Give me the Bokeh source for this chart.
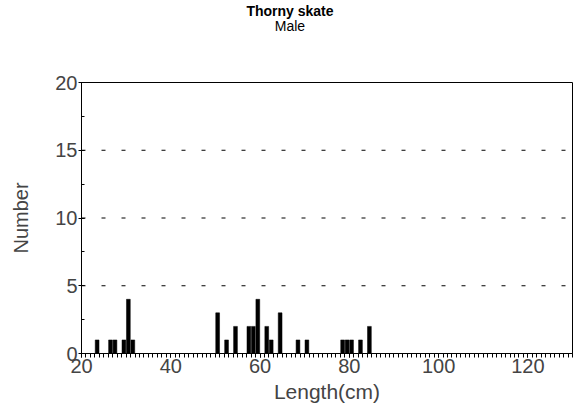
from bokeh.plotting import figure
from bokeh.models import ColumnDataSource, SingleIntervalTicker, Range1d, Span, Div
from bokeh.layouts import column
from bokeh.transform import dodge
from bokeh.embed import file_html
from bokeh.resources import INLINE

# Length-frequency of male thorny skate (1 cm bins, lower edge)
lengths = [23, 26, 27, 29, 30, 31, 50, 52, 54, 57, 58, 59, 61, 62, 64, 68, 70, 78, 79, 80, 82, 84]
counts = [1, 1, 1, 1, 4, 1, 3, 1, 2, 2, 2, 4, 2, 1, 3, 1, 1, 1, 1, 1, 1, 2]
grid_levels = [5, 10, 15]

FONT = "Liberation Sans"

src = ColumnDataSource(data=dict(length=lengths, count=counts))

p = figure(width=574, height=374, output_backend="svg", toolbar_location=None,
           x_range=Range1d(20, 130), y_range=Range1d(0, 20),
           min_border_left=81, min_border_right=2, min_border_top=42, min_border_bottom=61)
p.background_fill_color = "white"
p.border_fill_color = "white"
p.outline_line_color = "black"
p.outline_line_width = 1

p.vbar(x=dodge("length", 0.5), top="count", width=0.85, bottom=0, source=src,
       fill_color="black", line_color="black", line_width=0.5)

# grid: dashed horizontal reference lines only
p.xgrid.visible = False
p.ygrid.visible = False
for lv in grid_levels:
    p.add_layout(Span(location=lv, dimension="width", line_color="black",
                      line_width=1, line_dash="4 16"))

xa = p.xaxis[0]
xa.ticker = SingleIntervalTicker(interval=20, num_minor_ticks=20)
xa.axis_label = "Length(cm)"
xa.axis_label_text_font = FONT
xa.axis_label_text_font_size = "21px"
xa.axis_label_text_font_style = "normal"
xa.axis_label_standoff = 4
xa.major_label_text_font = FONT
xa.major_label_text_font_size = "20px"
xa.major_label_standoff = 1
xa.major_tick_in = 0
xa.major_tick_out = 4
xa.minor_tick_in = 0
xa.minor_tick_out = 4
xa.axis_line_color = "black"

ya = p.yaxis[0]
ya.ticker = SingleIntervalTicker(interval=5, num_minor_ticks=2)
ya.axis_label = "Number"
ya.axis_label_text_font = FONT
ya.axis_label_text_font_size = "20px"
ya.axis_label_text_font_style = "normal"
ya.axis_label_standoff = 20
ya.major_label_text_font = FONT
ya.major_label_text_font_size = "20px"
ya.major_label_standoff = 1
ya.major_tick_in = 3
ya.major_tick_out = 3
ya.minor_tick_in = 3
ya.minor_tick_out = 0
ya.axis_line_color = "black"

# two-line heading above the plot
heading = Div(
    text="<b>Thorny skate</b><br>Male",
    width=574, height=40, margin=0,
    styles={"font-family": "'Liberation Sans', Arial, sans-serif", "font-size": "14px",
            "line-height": "15px", "text-align": "center", "color": "black",
            "padding-top": "4px", "padding-left": "6px", "box-sizing": "border-box",
            "width": "574px"},
)

layout = column(heading, p, spacing=0)

open("out.html", "w").write(file_html(layout, INLINE))
